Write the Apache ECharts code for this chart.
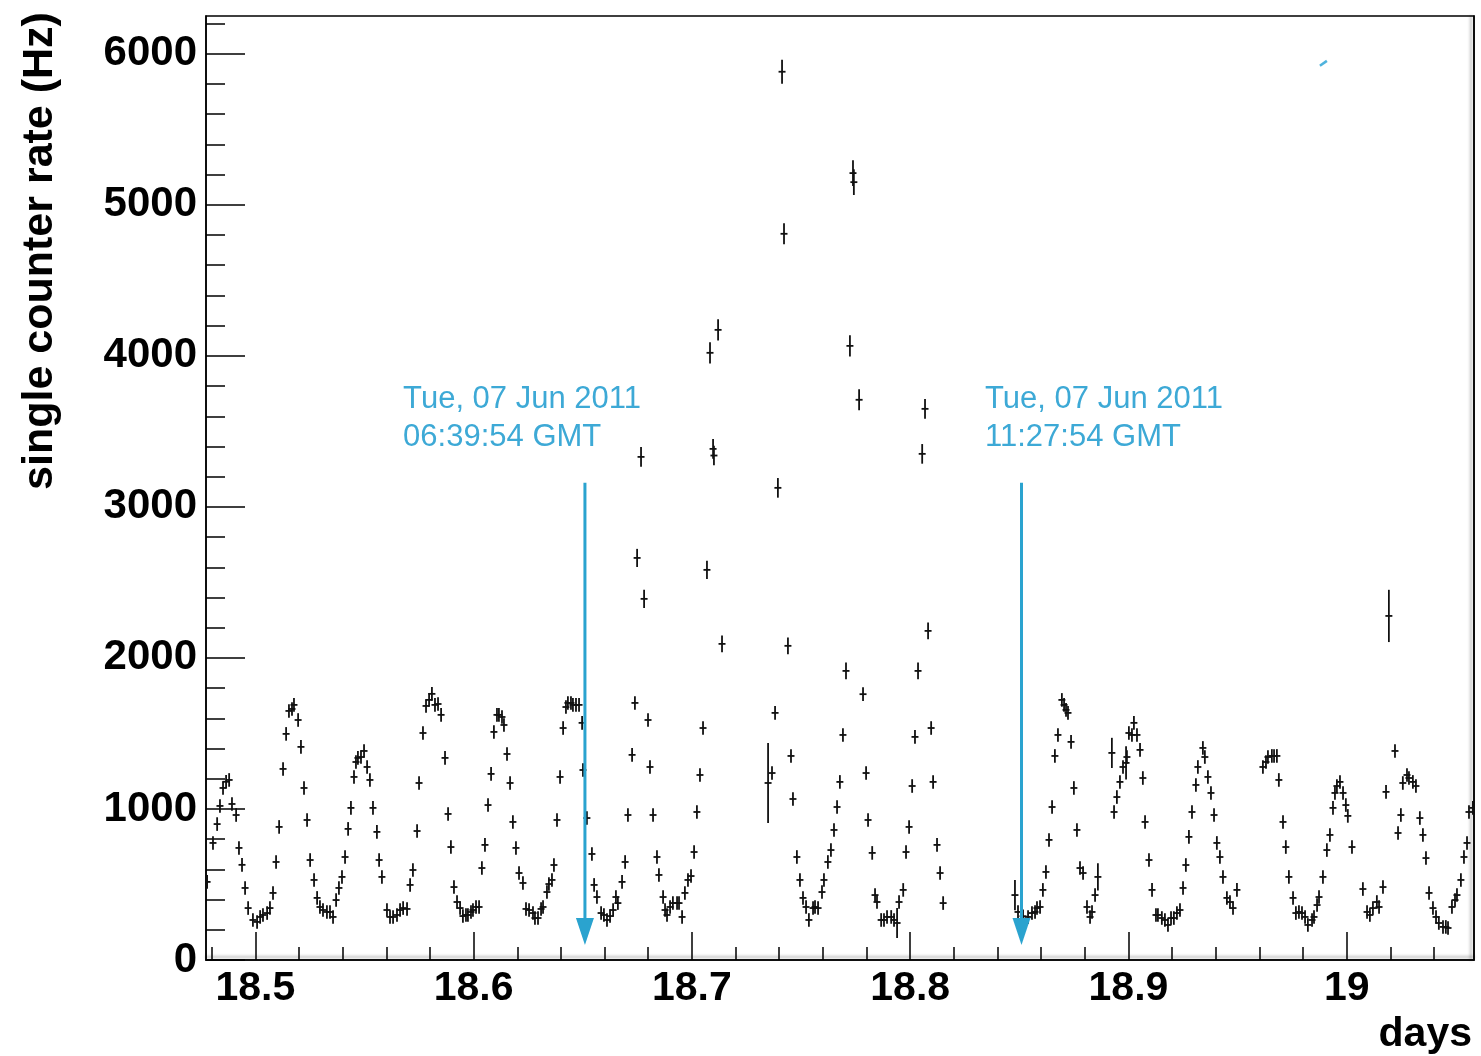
<!DOCTYPE html>
<html>
<head>
<meta charset="utf-8">
<title>single counter rate</title>
<script src="https://cdn.jsdelivr.net/npm/echarts@6.0.0/dist/echarts.min.js"></script>
<style>
  html, body { margin: 0; padding: 0; background: #fff; }
  #chart { width: 1481px; height: 1056px; }
</style>
</head>
<body>
<div id="chart"></div>
<script>
// points: [days, rate (Hz), optional error (Hz)]
const wave1 = [
  [18.4779,517],[18.4806,775],[18.4825,900],[18.4838,1020],[18.4852,1139],[18.4866,1180],[18.4880,1192],[18.4893,1033],
  [18.4912,960],[18.4925,742],[18.4939,630],[18.4953,477],[18.4967,344],[18.4989,265],[18.5008,252],[18.5022,285],
  [18.5035,298],[18.5054,311],[18.5067,344],[18.5081,444],[18.5095,649],[18.5109,881],[18.5127,1265],[18.5141,1497],
  [18.5154,1649],[18.5168,1662],[18.5177,1689],[18.5196,1589],[18.5209,1411],[18.5223,1139],[18.5237,927],[18.5251,662],
  [18.5269,530],[18.5283,411],[18.5296,351],[18.5310,331],[18.5328,318],[18.5342,318],[18.5356,285],[18.5370,397],
  [18.5383,477],[18.5397,550],[18.5411,682],[18.5425,868],[18.5438,1007],[18.5452,1212],[18.5461,1311],[18.5470,1338],
  [18.5484,1344],[18.5498,1384],[18.5512,1278],[18.5525,1192],[18.5539,1007],[18.5557,848],[18.5567,662],[18.5580,550],
  [18.5603,331],[18.5617,285],[18.5631,285],[18.5649,298],[18.5663,331],[18.5677,344],[18.5695,338],[18.5709,497],
  [18.5722,596],[18.5741,854],[18.5750,1172],[18.5768,1503],[18.5782,1682],[18.5796,1722],[18.5809,1762],[18.5823,1689],
  [18.5837,1695],[18.5851,1623],[18.5869,1338],[18.5883,967],[18.5896,748],[18.5910,483],[18.5924,384],[18.5938,344],
  [18.5951,291],[18.5965,298],[18.5974,298],[18.5988,318],[18.5997,331],[18.6011,351],[18.6025,351],[18.6038,609],
  [18.6052,762],[18.6066,1026],[18.6080,1232],[18.6093,1510],[18.6107,1623],[18.6116,1623],[18.6130,1609],[18.6139,1556],
  [18.6153,1364],[18.6167,1172],[18.6180,914],[18.6194,742],[18.6208,576],[18.6226,510],[18.6240,338],[18.6254,331],
  [18.6272,311],[18.6281,278],[18.6295,278],[18.6309,338],[18.6318,351],[18.6336,450],[18.6345,503],[18.6359,530],
  [18.6368,629],[18.6382,927],[18.6396,1212],[18.6410,1536],[18.6423,1675],[18.6432,1702],[18.6446,1702],[18.6455,1689],
  [18.6469,1689],[18.6483,1689],[18.6497,1570],[18.6501,1258],[18.6519,940],[18.6542,702],[18.6552,497],[18.6565,417],
  [18.6584,311],[18.6597,298],[18.6611,265],[18.6625,291],[18.6639,331],[18.6652,417],[18.6661,377],[18.6680,517],
  [18.6694,649],[18.6707,960],[18.6726,1358],[18.6739,1702],[18.6749,2662,60],[18.6767,3331,65],[18.6781,2391,60],[18.6799,1589],
  [18.6808,1278],[18.6822,960],[18.6840,682],[18.6849,563],[18.6868,417],[18.6877,331],[18.6886,298],[18.6900,351],
  [18.6913,377],[18.6932,377],[18.6941,377],[18.6955,285],[18.6968,444],[18.6982,530],[18.6996,556],[18.7010,715],
  [18.7023,980],[18.7037,1225],[18.7051,1536],[18.7069,2583,60],[18.7083,4020,70],[18.7097,3384,65],[18.7101,3340,65],[18.7120,4172,70],
  [18.7138,2093,55]
];
const burst = [
  [18.7349,1172,265],[18.7367,1238],[18.7381,1636],[18.7394,3126,65],[18.7413,5881,80],[18.7422,4808,70],[18.7440,2080,55],[18.7454,1351],
  [18.7463,1066],[18.7481,682],[18.7495,530],[18.7509,411],[18.7523,351],[18.7536,265],[18.7555,344],[18.7564,351],
  [18.7578,344],[18.7596,450],[18.7605,530],[18.7623,649],[18.7637,728],[18.7651,861],[18.7665,1013],[18.7678,1179],
  [18.7692,1490],[18.7706,1914,55],[18.7724,4066,70],[18.7738,5210,85],[18.7742,5150,85],[18.7766,3709,70],[18.7784,1760],[18.7798,1238],
  [18.7807,927],[18.7826,709],[18.7839,430],[18.7848,384],[18.7867,265],[18.7880,265],[18.7894,285],[18.7913,285],
  [18.7926,265],[18.7940,245,100],[18.7949,384],[18.7968,464],[18.7981,715],[18.7995,881],[18.8009,1152],[18.8022,1477],
  [18.8036,1914,55],[18.8055,3351,65],[18.8068,3649,65],[18.8082,2179,55],[18.8096,1536],[18.8105,1179],[18.8123,762],[18.8137,576],
  [18.8151,377]
];
const wave2 = [
  [18.8480,430,100],[18.8494,318],[18.8517,290],[18.8540,285],[18.8558,311],[18.8572,318],[18.8581,344],[18.8595,351],
  [18.8608,464],[18.8622,583],[18.8636,795],[18.8650,1013],[18.8663,1351],[18.8677,1490],[18.8695,1722],[18.8705,1689],
  [18.8714,1656],[18.8723,1636],[18.8737,1444],[18.8750,1139],[18.8764,861],[18.8778,609],[18.8792,576],[18.8810,351],
  [18.8824,285],[18.8833,318],[18.8847,430],[18.8860,550,90],[18.8924,1371,100],[18.8934,980],[18.8947,1079],[18.8961,1179],
  [18.8975,1278],[18.8989,1305,110],[18.8993,1344],[18.9002,1503],[18.9016,1490],[18.9025,1570],[18.9039,1490],[18.9053,1391],
  [18.9066,1205],[18.9076,914],[18.9094,662],[18.9108,464],[18.9126,298],[18.9135,298],[18.9153,278],[18.9167,265],
  [18.9181,232],[18.9195,278],[18.9208,278],[18.9222,311],[18.9236,331],[18.9250,477],[18.9263,629],[18.9277,815],
  [18.9291,980],[18.9309,1159],[18.9318,1278],[18.9341,1404],[18.9350,1344],[18.9364,1212],[18.9378,1106],[18.9392,960],
  [18.9405,775],[18.9419,682],[18.9433,550],[18.9451,411],[18.9465,384],[18.9479,344],[18.9497,464]
];
const wave3 = [
  [18.9616,1278],[18.9630,1311],[18.9639,1344],[18.9657,1351],[18.9667,1351],[18.9680,1351],[18.9689,1192],[18.9708,914],
  [18.9721,748],[18.9735,550],[18.9754,411],[18.9767,311],[18.9781,318],[18.9795,311],[18.9809,285],[18.9822,232],
  [18.9841,265],[18.9850,285],[18.9864,364],[18.9873,417],[18.9891,550],[18.9909,728],[18.9923,828],[18.9937,1007],
  [18.9946,1106],[18.9955,1152],[18.9969,1179],[18.9983,1106],[18.9996,1026],[19.0005,954],[19.0024,748],[19.0074,470],
  [19.0093,318],[19.0106,298],[19.0120,344],[19.0138,384],[19.0148,351],[19.0166,483],[19.0180,1113],[19.0193,2278,173],
  [19.0221,1384],[19.0235,841],[19.0248,960],[19.0257,1172],[19.0276,1225],[19.0285,1205],[19.0303,1179],[19.0317,1152],
  [19.0335,940],[19.0349,828],[19.0363,675],[19.0377,444],[19.0395,344],[19.0409,285],[19.0422,245],[19.0441,219],
  [19.0454,219],[19.0464,212],[19.0482,351],[19.0496,397],[19.0505,430],[19.0523,530],[19.0537,682],[19.0551,775],
  [19.0560,980],[19.0578,1007]
];

const xMajor = [18.5, 18.6, 18.7, 18.8, 18.9, 19];
const yMajor = [0, 1000, 2000, 3000, 4000, 5000, 6000];

// arrows: [days, top rate, tip rate]
const arrows = [[18.651, 3160, 100], [18.851, 3160, 100]];
// labels: [days, rate at top of text]
const arrowLabelPos = [[18.5677, 3834], [18.8343, 3840]];
const arrowLabels = ['Tue, 07 Jun 2011\n06:39:54 GMT', 'Tue, 07 Jun 2011\n11:27:54 GMT'];
const blueMark = [[18.9877, 5920], [18.9909, 5953]];

const DEFAULT_ERR = 45;
const X_ERR = 0.0016;
const BLUE = '#2aa3cf';
const FONT = '"Liberation Sans", Arial, Helvetica, sans-serif';

const points = [].concat(wave1, burst, wave2, wave3).map(p => [p[0], p[1], p[2] || DEFAULT_ERR]);

const xMinor = [];
for (let i = 0; i <= 28; i++) xMinor.push(+(18.48 + i * 0.02).toFixed(2));
const yMinor = [];
for (let i = 0; i <= 31; i++) yMinor.push(i * 200);

const chart = echarts.init(document.getElementById('chart'));

const option = {
  animation: false,
  backgroundColor: '#fff',
  grid: {
    left: 206, top: 16, right: 7, bottom: 96,
    containLabel: false,
    show: true, borderColor: '#000', borderWidth: 1.5
  },
  xAxis: [
    {
      type: 'value', min: 18.4774, max: 19.0583, position: 'bottom',
      axisLine: { show: true, onZero: false, lineStyle: { color: '#000', width: 1.5, shadowColor: 'rgba(0,0,0,0.35)', shadowBlur: 3, shadowOffsetY: -3 } },
      axisTick: { show: true, inside: true, length: 13, customValues: xMinor, lineStyle: { color: '#000', width: 1.5 } },
      axisLabel: {
        customValues: xMajor, margin: 8, color: '#000',
        fontSize: 41, fontWeight: 'bold', fontFamily: FONT,
        formatter: v => String(+(+v).toFixed(2))
      },
      splitLine: { show: false }
    },
    {
      type: 'value', min: 18.4774, max: 19.0583, position: 'bottom',
      axisLine: { show: false, onZero: false },
      axisTick: { show: true, inside: true, length: 28, customValues: xMajor, lineStyle: { color: '#000', width: 1.5 } },
      axisLabel: { show: false },
      splitLine: { show: false }
    }
  ],
  yAxis: [
    {
      type: 'value', min: 0, max: 6250, position: 'left',
      axisLine: { show: true, onZero: false, lineStyle: { color: '#000', width: 1.5 } },
      axisTick: { show: true, inside: true, length: 19, customValues: yMinor, lineStyle: { color: '#000', width: 1.5 } },
      axisLabel: {
        customValues: yMajor, margin: 9, color: '#000',
        fontSize: 42, fontWeight: 'bold', fontFamily: FONT,
        formatter: v => String(Math.round(v))
      },
      splitLine: { show: false }
    },
    {
      type: 'value', min: 0, max: 6250, position: 'left',
      axisLine: { show: false, onZero: false },
      axisTick: { show: true, inside: true, length: 39, customValues: yMajor, lineStyle: { color: '#000', width: 1.5 } },
      axisLabel: { show: false },
      splitLine: { show: false }
    },
    {
      type: 'value', min: 0, max: 6250, position: 'right',
      axisLine: { show: true, onZero: false, lineStyle: { color: '#000', width: 1.5, shadowColor: 'rgba(0,0,0,0.35)', shadowBlur: 3, shadowOffsetX: -3 } },
      axisTick: { show: false },
      axisLabel: { show: false },
      splitLine: { show: false }
    }
  ],
  graphic: [
    {
      type: 'text', x: 40, y: 251, rotation: Math.PI / 2,
      style: {
        text: 'single counter rate (Hz)', fill: '#000',
        font: 'bold 43px ' + FONT, align: 'center', verticalAlign: 'middle'
      }
    },
    {
      type: 'text', right: 9, top: 1014,
      style: { text: 'days', fill: '#000', font: 'bold 41px ' + FONT }
    }
  ],
  series: [
    {
      type: 'custom',
      name: 'rate',
      xAxisIndex: 0, yAxisIndex: 0,
      clip: true,
      data: points,
      encode: { x: 0, y: 1 },
      renderItem(params, api) {
        const x = api.value(0), y = api.value(1), e = api.value(2);
        const c = api.coord([x, y]);
        const lo = api.coord([x, y - e]);
        const hi = api.coord([x, y + e]);
        const l = api.coord([x - X_ERR, y]);
        const r = api.coord([x + X_ERR, y]);
        const st = { stroke: '#111', lineWidth: 1.8 };
        return {
          type: 'group',
          children: [
            { type: 'line', shape: { x1: c[0], y1: lo[1], x2: c[0], y2: hi[1] }, style: st },
            { type: 'line', shape: { x1: l[0], y1: c[1], x2: r[0], y2: c[1] }, style: st }
          ]
        };
      }
    },
    {
      type: 'custom',
      name: 'arrows',
      xAxisIndex: 0, yAxisIndex: 0,
      data: arrows,
      encode: { x: 0, y: 1 },
      renderItem(params, api) {
        const top = api.coord([api.value(0), api.value(1)]);
        const tip = api.coord([api.value(0), api.value(2)]);
        return {
          type: 'group',
          children: [
            { type: 'line', shape: { x1: top[0], y1: top[1], x2: tip[0], y2: tip[1] - 20 }, style: { stroke: BLUE, lineWidth: 3 } },
            {
              type: 'polygon',
              shape: { points: [[tip[0] - 9, tip[1] - 27], [tip[0] + 9, tip[1] - 27], [tip[0], tip[1]]] },
              style: { fill: BLUE }
            }
          ]
        };
      }
    },
    {
      type: 'custom',
      name: 'labels',
      xAxisIndex: 0, yAxisIndex: 0,
      data: arrowLabelPos,
      encode: { x: 0, y: 1 },
      renderItem(params, api) {
        const p = api.coord([api.value(0), api.value(1)]);
        return {
          type: 'text',
          x: p[0], y: p[1],
          style: {
            text: arrowLabels[params.dataIndex], fill: '#3da9d6',
            font: '31px ' + FONT, lineHeight: 38, align: 'left', verticalAlign: 'top'
          }
        };
      }
    },
    {
      type: 'custom',
      name: 'mark',
      xAxisIndex: 0, yAxisIndex: 0,
      data: [blueMark[0]],
      encode: { x: 0, y: 1 },
      renderItem(params, api) {
        const a = api.coord(blueMark[0]);
        const b = api.coord(blueMark[1]);
        return { type: 'line', shape: { x1: a[0], y1: a[1], x2: b[0], y2: b[1] }, style: { stroke: '#4fb3dd', lineWidth: 2.5 } };
      }
    }
  ]
};

chart.setOption(option);
</script>
</body>
</html>
